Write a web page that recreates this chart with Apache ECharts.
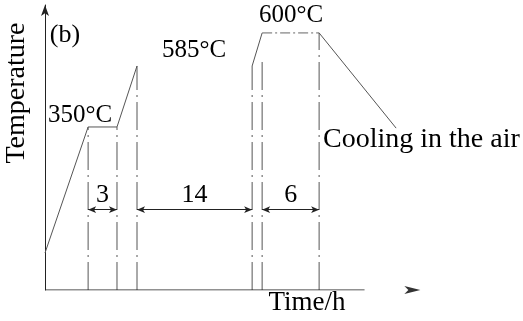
<!DOCTYPE html>
<html><head><meta charset="utf-8">
<script src="https://cdn.jsdelivr.net/npm/echarts@6/dist/echarts.min.js"></script>
<style>html,body{margin:0;padding:0;background:#fff}#c{width:523px;height:321px}</style>
</head><body><div id="c"></div>
<script>
// Schematic units: x 0-100 along the time axis, y 0-100 along the temperature axis
const stage1Time = [0, 11.2, 18.7, 23.9];
const stage1Temp = [13, 57.2, 57.2, 78.6];
const stage2Time = [53.8, 56.4, 71.2, 91.2];
const stage2Temp = [78.6, 90.2, 90.2, 56.8];
const guideTime = [11.2, 18.7, 23.9, 53.8, 56.4, 71.2];
const guideTop = [57.2, 57.2, 78.6, 78.6, 80.7, 90.2];
const dimStart = [11.2, 23.9, 56.4];
const dimEnd = [18.7, 53.8, 71.2];
const dimLevel = 28.2;
const dimLabels = ['3', '14', '6'];
const tempLabels = ['350°C', '585°C', '600°C'];
const axisEnd = 83;
const arrowPos = 97.5;

const FONT = '"Liberation Serif", "Times New Roman", serif';
const pts = (xs, ys) => xs.map((x, i) => [x, ys[i]]);
const s1 = pts(stage1Time, stage1Temp);
const s2 = pts(stage2Time, stage2Temp);

const base = { type: 'line', symbol: 'none', silent: true, animation: false };
const series = [];
series.push(Object.assign({}, base, { data: s1, lineStyle: { color: '#555', width: 1 } }));
series.push(Object.assign({}, base, { data: s2.slice(0, 2), lineStyle: { color: '#555', width: 1 } }));
series.push(Object.assign({}, base, { data: s2.slice(1, 3), lineStyle: { color: '#666', width: 1, type: [10, 3, 2, 3] } }));
series.push(Object.assign({}, base, { data: s2.slice(2, 4), lineStyle: { color: '#555', width: 1 } }));
guideTime.forEach((t, i) => {
  series.push(Object.assign({}, base, {
    data: [[t, 0], [t, guideTop[i]]],
    lineStyle: { color: '#555', width: 1, type: [28, 5, 2, 5] }
  }));
});
// time axis line
series.push(Object.assign({}, base, {
  data: [[0, 0], [axisEnd, 0]],
  lineStyle: { color: '#222', width: 1 },
  markLine: {
    silent: true, animation: false,
    symbol: ['arrow', 'arrow'], symbolSize: [5, 8],
    lineStyle: { color: '#222', width: 1, type: 'solid' },
    label: { show: true, position: 'middle', distance: 1, color: '#000', fontSize: 26, fontFamily: FONT,
      formatter: p => dimLabels[p.dataIndex] },
    data: dimStart.map((x, i) => [{ coord: [x, dimLevel] }, { coord: [dimEnd[i], dimLevel] }])
  }
}));
series.push({ type: 'scatter', silent: true, animation: false, clip: false,
  data: [[arrowPos, 0]], symbol: 'arrow', symbolSize: [6, 16], symbolRotate: -90,
  itemStyle: { color: '#000' } });

const tempPos = [[80, 115], [194, 50], [291, 15]];
const txt = (text, x, y, size, extra) => Object.assign({
  type: 'text', x: x, y: y,
  style: { text: text, font: size + 'px ' + FONT, fill: '#000', align: 'center', verticalAlign: 'middle' }
}, extra || {});

const graphic = [
  txt('(b)', 65, 35, 26),
  txt('Temperature', 17, 93, 28, { rotation: Math.PI / 2 }),
  txt('Time/h', 307, 303, 27),
  { type: 'text', x: 323, y: 140, style: { text: 'Cooling in the air', font: '28px ' + FONT, fill: '#000', align: 'left', verticalAlign: 'middle' } }
].concat(tempLabels.map((t, i) => txt(t, tempPos[i][0], tempPos[i][1], 25)));

const chart = echarts.init(document.getElementById('c'), null, { renderer: 'canvas' });
chart.setOption({
  animation: false,
  backgroundColor: '#fff',
  grid: { left: 45, top: 5, width: 385, height: 285 },
  xAxis: { type: 'value', min: 0, max: 100, axisLine: { show: false }, axisTick: { show: false },
    axisLabel: { show: false }, splitLine: { show: false } },
  yAxis: { type: 'value', min: 0, max: 100,
    axisLine: { show: true, symbol: ['none', 'arrow'], symbolSize: [6, 11], lineStyle: { color: '#222', width: 1 } },
    axisTick: { show: false }, axisLabel: { show: false }, splitLine: { show: false } },
  series: series,
  graphic: graphic
});
</script></body></html>
